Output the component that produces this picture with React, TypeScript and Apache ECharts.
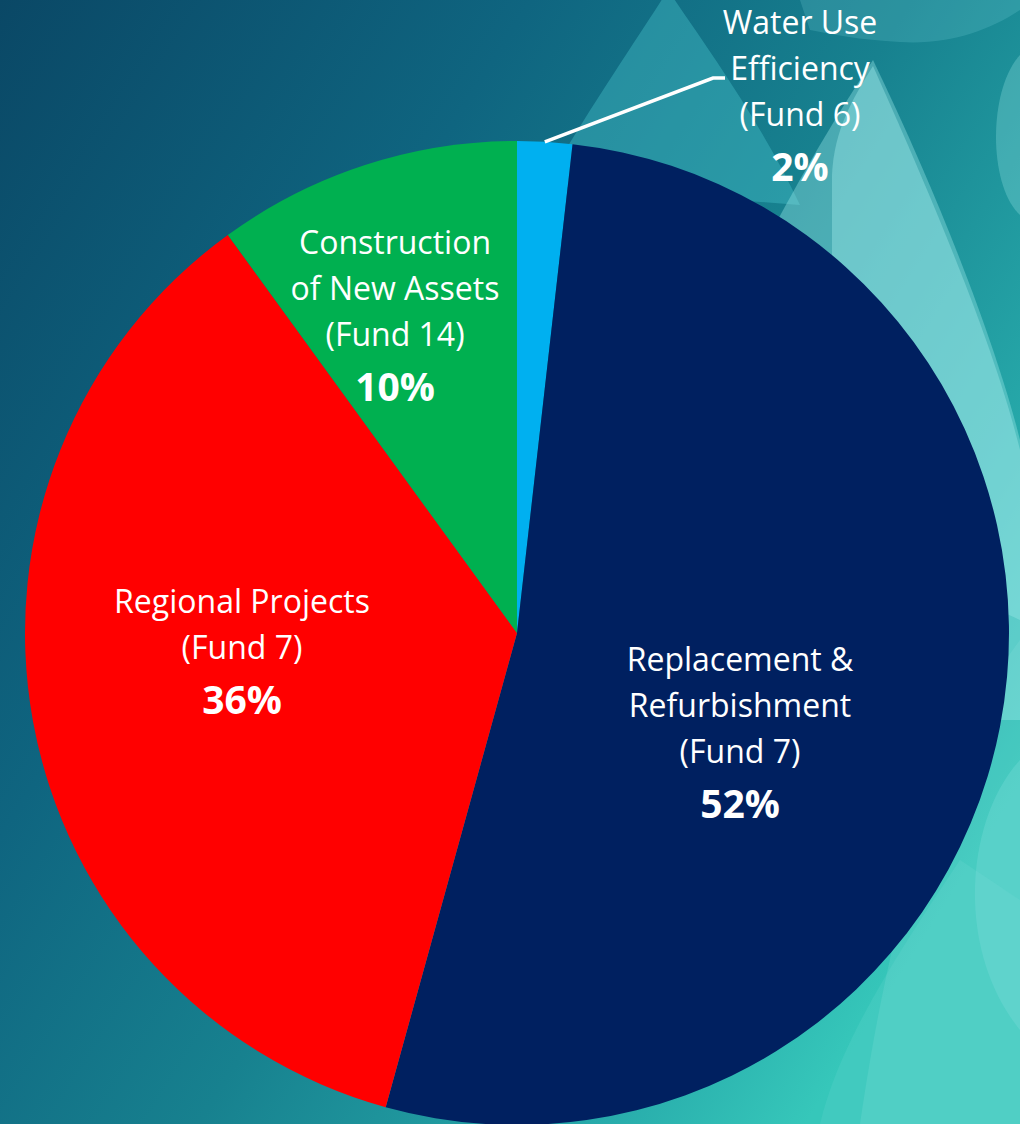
import React, { useEffect, useRef } from "react";
import * as echarts from "echarts";

// ---- data ----
const names = [
  "Water Use Efficiency (Fund 6)",
  "Replacement & Refurbishment (Fund 7)",
  "Regional Projects (Fund 7)",
  "Construction of New Assets (Fund 14)",
];
const labelTextLines = [
  ["Water Use", "Efficiency", "(Fund 6)"],
  ["Replacement &", "Refurbishment", "(Fund 7)"],
  ["Regional Projects", "(Fund 7)"],
  ["Construction", "of New Assets", "(Fund 14)"],
];
// slice sizes
const values = [1.8, 52.5, 35.7, 10.0];
// percentages as printed on the chart
const percentLabels = ["2%", "52%", "36%", "10%"];
const colors = ["#00B0F0", "#002060", "#FF0000", "#00B050"];

// ---- layout ----
const W = 1020;
const H = 1124;
const CX = 517;
const CY = 633;
const R = 492;
// label block centres relative to pie centre
const labelOffsets = [
  [283, -537],
  [223, 100],
  [-275, 19],
  [-122, -317],
];
// leader line bend points (relative to pie centre) for the outside label
const leaderBend = [
  [196, -555],
  [208, -555],
];

const dropShapes = [
  { name: "dropA", d: "M 668 -10 C 630 50 588 110 545 185 L 800 205 C 760 120 705 45 668 -10 Z", fill: "rgba(70,190,200,0.42)" },
  { name: "bandTop", d: "M 800 0 L 1020 0 L 1020 10 C 990 30 950 45 900 42 C 860 40 830 34 810 30 Z", fill: "rgba(120,210,220,0.22)" },
  { name: "dropMid", d: "M 873 60 C 840 110 810 160 775 225 L 800 520 L 1020 620 L 1020 440 C 1000 360 950 220 873 60 Z", fill: "rgba(150,230,230,0.40)" },
  { name: "dropLight", d: "M 873 66 C 852 100 834 130 832 175 L 832 720 L 1020 720 L 1020 450 C 1000 370 960 260 873 66 Z", fill: "rgba(160,235,235,0.40)" },
  { name: "bulge", d: "M 1020 55 C 988 90 988 185 1020 215 Z", fill: "rgba(150,230,230,0.30)" },
  { name: "bulge2", d: "M 1020 760 C 965 820 955 950 1020 1030 Z", fill: "rgba(150,230,230,0.22)" },
  { name: "dropBR", d: "M 1020 640 C 960 720 900 850 860 1124 L 1020 1124 Z", fill: "rgba(150,230,230,0.18)" },
  { name: "dropB2", d: "M 960 860 C 900 950 840 1040 820 1124 L 1020 1124 L 1020 900 Z", fill: "rgba(150,230,230,0.12)" },
];

let registered = false;
function registerShapes() {
  if (registered) return;
  dropShapes.forEach((s) => {
    echarts.graphic.registerShape(s.name, echarts.graphic.extendPath(s.d, {}) as any);
  });
  registered = true;
}

export default function App() {
  const ref = useRef<HTMLDivElement>(null);

  useEffect(() => {
    document.body.style.margin = "0";
    registerShapes();
    const chart = echarts.init(ref.current!, undefined, { renderer: "svg" });

    const total = values.reduce((a, b) => a + b, 0);
    const midAngle = (i: number) => {
      let before = 0;
      for (let k = 0; k < i; k++) before += values[k];
      return ((before + values[i] / 2) / total) * Math.PI * 2;
    };
    const a0 = midAngle(0);
    const leaderPoints = [
      [CX + R * Math.sin(a0), CY - R * Math.cos(a0)],
      [CX + leaderBend[0][0], CY + leaderBend[0][1]],
      [CX + leaderBend[1][0], CY + leaderBend[1][1]],
    ];

    const data = names.map((n, i) => ({
      name: n,
      value: values[i],
      itemStyle: { color: colors[i] },
      label:
        i === 0
          ? { show: true, position: "outside" }
          : { show: true, position: "inside" },
      labelLine: { show: false },
    }));

    const option: any = {
      animation: false,
      graphic: [
        {
          type: "rect",
          z: -10,
          shape: { x: 0, y: 0, width: W, height: H },
          style: {
            fill: new echarts.graphic.LinearGradient(0, 0, 1, 0.7, [
              { offset: 0, color: "#0A4866" },
              { offset: 0.35, color: "#0F6580" },
              { offset: 0.6, color: "#17818F" },
              { offset: 0.85, color: "#26A8A9" },
              { offset: 1, color: "#36C7BA" },
            ]),
          },
        },
        ...dropShapes.map((s) => ({
          type: s.name,
          z: -5,
          x: 0,
          y: 0,
          scaleX: 1,
          scaleY: 1,
          style: { fill: s.fill },
        })),
        {
          type: "polyline",
          z: 100,
          shape: { points: leaderPoints },
          style: { stroke: "#ffffff", lineWidth: 3.5, fill: "none", lineJoin: "miter" },
        },
      ],
      series: [
        {
          type: "pie",
          z: 2,
          center: [CX, CY],
          radius: R,
          startAngle: 90,
          clockwise: true,
          avoidLabelOverlap: false,
          data,
          label: {
            color: "#ffffff",
            formatter: (p: any) =>
              labelTextLines[p.dataIndex].map((l) => `{n|${l}}`).join("\n") +
              `\n{p|${percentLabels[p.dataIndex]}}`,
            rich: {
              n: {
                fontFamily: "Open Sans",
                fontSize: 32,
                lineHeight: 46,
                color: "#ffffff",
                align: "center",
              },
              p: {
                fontFamily: "Open Sans",
                fontSize: 39,
                fontWeight: "bold",
                lineHeight: 58,
                color: "#ffffff",
                align: "center",
              },
            },
          },
          labelLayout: (p: any) => {
            const [dx, dy] = labelOffsets[p.dataIndex];
            return {
              x: CX + dx,
              y: CY + dy,
              align: "center",
              verticalAlign: "middle",
            };
          },
        },
      ],
    };

    chart.setOption(option);
    return () => chart.dispose();
  }, []);

  return <div ref={ref} style={{ width: W, height: H }} />;
}
